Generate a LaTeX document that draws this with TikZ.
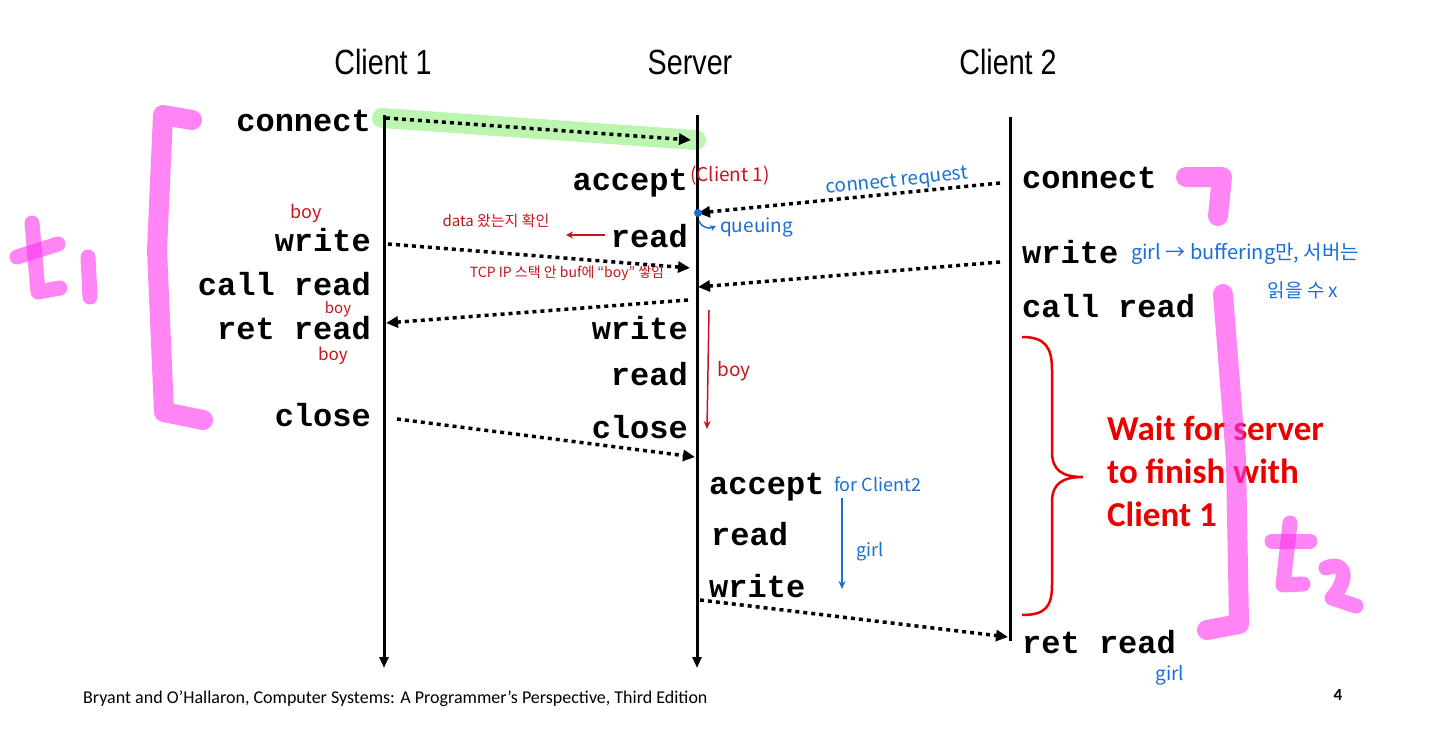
\documentclass[tikz,border=0pt]{standalone}
\usepackage{fontspec}
\setmainfont{Liberation Sans}
\newfontfamily\cmdfont{Liberation Mono}
\newfontfamily\calib{Carlito}
\newfontfamily\hand{Noto Sans CJK KR}
\usetikzlibrary{arrows.meta}
\definecolor{handred}{RGB}{200,20,30}
\definecolor{handblue}{RGB}{25,110,215}
\definecolor{wred}{RGB}{235,0,0}
\definecolor{pinkm}{RGB}{255,51,238}
\definecolor{hlgreen}{RGB}{188,245,176}
\tikzset{
  cmd/.style={font=\cmdfont\bfseries\fontsize{32}{34}\selectfont, inner sep=0pt},
  ttl/.style={font=\fontsize{35}{38}\selectfont, inner sep=0pt},
  timeline/.style={line width=3pt, -{Triangle[length=11pt,width=9pt]}},
  msg/.style={line width=3.5pt, dash pattern=on 4pt off 4pt, -{Triangle[length=12pt,width=11pt]}},
  rednote/.style={font=\hand\fontsize{#1}{#1}\selectfont, text=handred, inner sep=0pt},
  bluenote/.style={font=\hand\fontsize{#1}{#1}\selectfont, text=handblue, inner sep=0pt},
  pinkstroke/.style={draw=pinkm, draw opacity=0.6, line width=#1, line cap=round, line join=round},
  hlstroke/.style={draw=hlgreen, line width=20pt, line cap=round},
}
\begin{document}
\begin{tikzpicture}[x=1pt,y=-1pt]
\useasboundingbox (0,0) rectangle (1440,736);
\fill[white] (0,0) rectangle (1440,736);

% titles
\node[ttl] (t1) at (383,62) {\scalebox{0.82}[1]{Client 1}};
\node[ttl] (ts) at (690,62) {\scalebox{0.82}[1]{Server}};
\node[ttl] (t2) at (1008,62) {\scalebox{0.82}[1]{Client 2}};

% timeline coordinates
\coordinate (c1top) at (384,115);
\coordinate (c1bot) at (384,668);
\coordinate (stop) at (697,115);
\coordinate (sbot) at (697,668);
\coordinate (c2top) at (1010,117);
\coordinate (c2bot) at (1010,641);

% green highlight
\coordinate (hlA) at (382,118);
\coordinate (hlB) at (696,140);
\draw[hlstroke] (hlA) -- (hlB);

% timelines
\draw[timeline] (c1top) -- (c1bot);
\draw[timeline] (stop) -- (sbot);
\draw[line width=3pt] (c2top) -- (c2bot);

% client 1 commands
\node[cmd, anchor=mid east] (c1connect) at (371,129) {connect};
\node[cmd, anchor=mid east] (c1write) at (371,249) {write};
\node[cmd, anchor=mid east] (c1call) at (371,293) {call read};
\node[cmd, anchor=mid east] (c1ret) at (371,337) {ret read};
\node[cmd, anchor=mid east] (c1close) at (371,424) {close};

% server commands
\node[cmd, anchor=mid east] (saccept) at (688,188) {accept};
\node[cmd, anchor=mid east] (sread) at (688,245) {read};
\node[cmd, anchor=mid east] (swrite) at (688,337) {write};
\node[cmd, anchor=mid east] (sread2) at (688,383) {read};
\node[cmd, anchor=mid east] (sclose) at (688,436) {close};
\node[cmd, anchor=mid west] (saccept2) at (709,492) {accept};
\node[cmd, anchor=mid west] (sread3) at (711,543) {read};
\node[cmd, anchor=mid west] (swrite2) at (709,595) {write};

% client 2 commands
\node[cmd, anchor=mid west] (c2connect) at (1022,186) {connect};
\node[cmd, anchor=mid west] (c2write) at (1022,261) {write};
\node[cmd, anchor=mid west] (c2call) at (1022,315) {call read};
\node[cmd, anchor=mid west] (c2ret) at (1022,651) {ret read};

% message arrows
\coordinate (m1a) at (386,118);  \coordinate (m1b) at (691,140);
\coordinate (m2a) at (1000,183); \coordinate (m2b) at (698,213);
\coordinate (m3a) at (388,244);  \coordinate (m3b) at (690,268);
\coordinate (m4a) at (1000,262); \coordinate (m4b) at (698,287);
\coordinate (m5a) at (688,300);  \coordinate (m5b) at (386,323);
\coordinate (m6a) at (397,419);  \coordinate (m6b) at (695,457);
\coordinate (m7a) at (700,600);  \coordinate (m7b) at (1008,637);
\draw[msg] (m1a) -- (m1b);
\draw[msg] (m2a) -- (m2b);
\draw[msg] (m3a) -- (m3b);
\draw[msg] (m4a) -- (m4b);
\draw[msg] (m5a) -- (m5b);
\draw[msg] (m6a) -- (m6b);
\draw[msg] (m7a) -- (m7b);

% red annotations
\node[rednote=18] (boy1) at (306,213) {boy};
\node[rednote=15] (boy2) at (338,309) {boy};
\node[rednote=17] (boy3) at (333,356) {boy};
\node[rednote=15] (dataok) at (496,221) {data 왔는지 확인};
\coordinate (ra1) at (605,235); \coordinate (ra2) at (566,235);
\draw[handred, line width=1.6pt, -{Stealth[length=7pt,width=7pt]}] (ra1) -- (ra2);
\node[rednote=14] (tcp) at (567,273) {TCP IP 스택 안 buf에 \char"201C boy\char"201D{} 쌓임};
\node[rednote=19, anchor=west] (cl1) at (690,176) {(Client 1)};
\coordinate (rb1) at (709,310); \coordinate (rb2) at (707,429);
\draw[handred, line width=1.5pt, -{Stealth[length=8pt,width=7pt]}] (rb1) -- (rb2);
\node[rednote=19] (boy4) at (734,371) {boy};

% blue annotations
\node[bluenote=19, rotate=6] (creq) at (897,182) {connect request};
\fill[handblue] (m2b) circle (4pt);
\coordinate (qa) at (699,221); \coordinate (qb) at (716,226);
\draw[handblue, line width=1.5pt, -{Stealth[length=6pt,width=6pt]}] (qa) .. controls (702,228) and (709,229) .. (qb);
\node[bluenote=19, anchor=west] (queue) at (720,228) {queuing};
\node[bluenote=20, anchor=west] (girl1) at (1131,254) {girl → buffering만, 서버는};
\node[bluenote=19] (readx) at (1303,290) {읽을 수 x};
\node[bluenote=18, anchor=west] (forc2) at (834,484) {for Client2};
\coordinate (ba1) at (842,498); \coordinate (ba2) at (842,589);
\draw[handblue, line width=1.5pt, -{Stealth[length=8pt,width=7pt]}] (ba1) -- (ba2);
\node[bluenote=18] (girl2) at (870,552) {girl};
\node[bluenote=19] (girl3) at (1170,675) {girl};

% brace and wait text
\coordinate (brT) at (1022,337);
\coordinate (brM) at (1083,477);
\coordinate (brB) at (1022,615);
\draw[wred, line width=2.5pt] (brT) .. controls (1045,337) and (1052,347) .. (1052,370)
  -- (1052,452) .. controls (1052,470) and (1062,477) .. (brM)
  .. controls (1062,477) and (1052,484) .. (1052,502)
  -- (1052,585) .. controls (1052,607) and (1045,615) .. (brB);
\node[font=\calib\bfseries\fontsize{35}{43}\selectfont, text=wred, align=left, anchor=north west, inner sep=0pt] (wait) at (1107,416) {Wait for server\\to finish with\\Client 1};

% footer
\node[font=\calib\fontsize{18}{20}\selectfont, anchor=base west, inner sep=0pt] (foot) at (83,703) {Bryant and O’Hallaron, Computer Systems: A Programmer’s Perspective, Third Edition};
\node[font=\calib\bfseries\fontsize{17}{20}\selectfont, anchor=base, inner sep=0pt] (pnum) at (1338,700) {4};

% pink marks
\draw[pinkstroke=20pt] (192,120) -- (163,115) -- (157,250) -- (164,412) -- (203,420);
\draw[pinkstroke=15pt] (32,223) -- (38,292) -- (60,288);
\draw[pinkstroke=15pt] (17,257) -- (58,244);
\draw[pinkstroke=15pt] (88,257) -- (90,297);
\draw[pinkstroke=20pt] (1186,177) -- (1222,177) -- (1218,216);
\draw[pinkstroke=20pt] (1223,294) -- (1236,460) -- (1239,624) -- (1207,630);
\draw[pinkstroke=15pt] (1290,523) -- (1283,585) -- (1303,584);
\draw[pinkstroke=15pt] (1272,541) -- (1310,541);
\draw[pinkstroke=15pt] (1326,568) .. controls (1345,560) and (1350,578) .. (1332,598) -- (1356,606);
\end{tikzpicture}
\end{document}
